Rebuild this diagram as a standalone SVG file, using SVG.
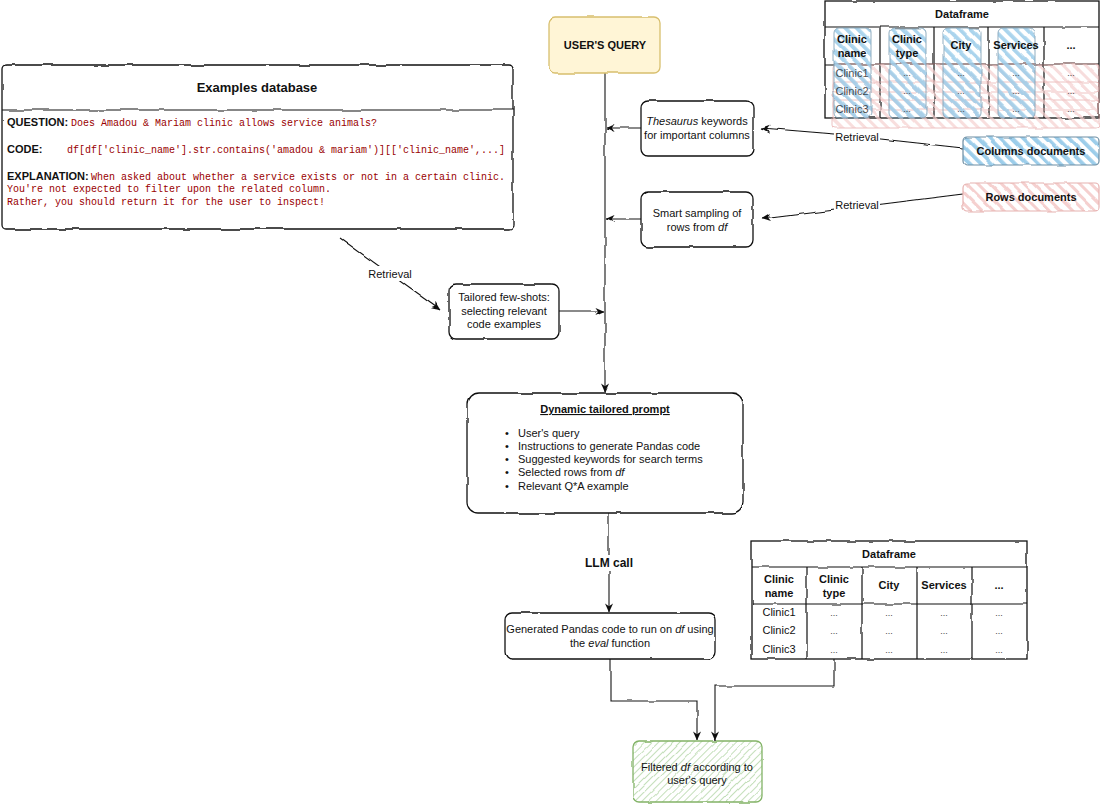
<svg xmlns="http://www.w3.org/2000/svg" width="1100" height="806" viewBox="0 0 1100 806">
<style>
.t{font-family:"Liberation Sans",Arial,sans-serif;font-size:11px;fill:#111}
.b{font-weight:bold}
.i{font-style:italic}
.m{text-anchor:middle}
.c{font-family:"Liberation Mono","Courier New",monospace;font-size:10px;fill:#990000}
.box{fill:#fff;stroke:#111;stroke-width:1.3}
.ln{fill:none;stroke:#111;stroke-width:1.2}
.con{fill:none;stroke:#111;stroke-width:1.1}
.dots{font-size:9px;fill:#444}
</style>
<defs>
<filter id="rough" filterUnits="userSpaceOnUse" x="0" y="0" width="1100" height="806">
<feTurbulence type="fractalNoise" baseFrequency="0.05" numOctaves="2" seed="4"/>
<feDisplacementMap in="SourceGraphic" scale="3" xChannelSelector="R" yChannelSelector="G"/>
</filter>
<pattern id="hBlue" width="8" height="8" patternUnits="userSpaceOnUse" patternTransform="rotate(-45)">
<rect width="3.8" height="8" fill="#9ccdea"/>
</pattern>
<pattern id="hPink" width="8" height="8" patternUnits="userSpaceOnUse" patternTransform="rotate(-45)">
<rect width="3" height="8" fill="#f5d0cf"/>
</pattern>
<pattern id="hGreen" width="5" height="5" patternUnits="userSpaceOnUse" patternTransform="rotate(45)">
<rect width="1" height="5" fill="#c4dfba"/>
</pattern>
<marker id="arr" viewBox="0 0 10 10" refX="9.5" refY="5" markerWidth="9" markerHeight="9" markerUnits="userSpaceOnUse" orient="auto">
<path d="M0,0.5 L10,5 L0,9.5 L3,5 z" fill="#111"/>
</marker>
</defs>
<rect width="1100" height="806" fill="#fff"/>

<g id="connectors">
<g filter="url(#rough)">
<path class="con" d="M605,73 L605,392" marker-end="url(#arr)"/>
<path class="con" d="M642,128 L606,128" marker-end="url(#arr)"/>
<path class="con" d="M642,219 L606,219" marker-end="url(#arr)"/>
<path class="con" d="M559,311 L604,311" marker-end="url(#arr)"/>
<path class="con" d="M340,238 L440,310" marker-end="url(#arr)"/>
<path class="con" d="M963,148 L835,134 L762,128" marker-end="url(#arr)"/>
<path class="con" d="M963,194 L835,210 L762,219" marker-end="url(#arr)"/>
<path class="con" d="M609,513 L609,612" marker-end="url(#arr)"/>
<path class="con" d="M611,659 L611,701 L697,701 L697,740" marker-end="url(#arr)"/>
<path class="con" d="M834,659 L834,686 L715,686 L715,740" marker-end="url(#arr)"/>
</g>
<rect x="365" y="266" width="50" height="15" fill="#fff"/>
<text class="t m" x="390" y="278">Retrieval</text>
<rect x="834" y="130" width="46" height="14" fill="#fff"/>
<text class="t m" x="857" y="141">Retrieval</text>
<rect x="834" y="198" width="46" height="14" fill="#fff"/>
<text class="t m" x="857" y="209">Retrieval</text>
<rect x="583" y="555" width="52" height="16" fill="#fff"/>
<text class="t b m" x="609" y="567" style="font-size:12px">LLM call</text>
</g>

<g id="node-query">
<rect x="549" y="17" width="111" height="56" rx="6" fill="#fff5d6" stroke="#d8bf6e" stroke-width="1.3" filter="url(#rough)"/>
<text class="t b m" x="605" y="49">USER'S QUERY</text>
</g>

<g id="node-examples">
<g filter="url(#rough)">
<rect class="box" x="2" y="65" width="511" height="164" rx="4" stroke-width="1.6"/>
<path class="ln" d="M2,110 L513,110" stroke-width="1.6"/>
</g>
<text class="t b m" x="257" y="92" style="font-size:13px">Examples database</text>
<text class="t" x="7" y="126"><tspan class="b">QUESTION:</tspan><tspan class="c" x="71">Does Amadou &amp; Mariam clinic allows service animals?</tspan></text>
<text class="t" x="7" y="153"><tspan class="b">CODE:</tspan><tspan class="c" x="67">df[df['clinic_name'].str.contains('amadou &amp; mariam')][['clinic_name',...]</tspan></text>
<text class="t" x="7" y="180"><tspan class="b">EXPLANATION:</tspan><tspan class="c" x="91">When asked about whether a service exists or not in a certain clinic.</tspan></text>
<text class="c" x="7" y="192">You're not expected to filter upon the related column.</text>
<text class="c" x="7" y="205">Rather, you should return it for the user to inspect!</text>
</g>

<g id="node-thesaurus">
<rect class="box" x="641" y="101" width="112" height="55" rx="7" filter="url(#rough)"/>
<text class="t m" x="697" y="125"><tspan class="i">Thesaurus</tspan> keywords</text>
<text class="t m" x="697" y="139">for important columns</text>
</g>

<g id="node-sampling">
<rect class="box" x="641" y="192" width="112" height="55" rx="7" filter="url(#rough)"/>
<text class="t m" x="697" y="217">Smart sampling of</text>
<text class="t m" x="697" y="231">rows from <tspan class="i">df</tspan></text>
</g>

<g id="node-fewshots">
<rect class="box" x="449" y="284" width="110" height="55" rx="7" filter="url(#rough)"/>
<text class="t m" x="504" y="301">Tailored few-shots:</text>
<text class="t m" x="504" y="315">selecting relevant</text>
<text class="t m" x="504" y="328">code examples</text>
</g>

<g id="node-dataframe-top">
<g filter="url(#rough)">
<rect class="box" x="825" y="1" width="274" height="117"/>
<path class="ln" d="M825,27 L1099,27 M825,64 L1099,64 M880,27 L880,118 M934,27 L934,118 M989,27 L989,118 M1044,27 L1044,118"/>
<g opacity="0.7">
<rect x="833" y="64" width="266" height="28" rx="3" fill="url(#hPink)" stroke="#e7a9a8" stroke-width="1"/>
<rect x="833" y="82" width="266" height="28" rx="3" fill="url(#hPink)" stroke="#e7a9a8" stroke-width="1"/>
<rect x="833" y="100" width="266" height="28" rx="3" fill="url(#hPink)" stroke="#e7a9a8" stroke-width="1"/>
</g>
<g opacity="0.85">
<rect x="834" y="28" width="37" height="90" rx="5" fill="url(#hBlue)" stroke="#7d9fb5" stroke-width="1"/>
<rect x="889" y="28" width="37" height="90" rx="5" fill="url(#hBlue)" stroke="#7d9fb5" stroke-width="1"/>
<rect x="943" y="28" width="38" height="90" rx="5" fill="url(#hBlue)" stroke="#7d9fb5" stroke-width="1"/>
<rect x="998" y="28" width="37" height="90" rx="5" fill="url(#hBlue)" stroke="#7d9fb5" stroke-width="1"/>
</g>
</g>
<text class="t b m" x="962" y="18">Dataframe</text>
<text class="t b m" x="852" y="43">Clinic</text>
<text class="t b m" x="852" y="57">name</text>
<text class="t b m" x="907" y="43">Clinic</text>
<text class="t b m" x="907" y="57">type</text>
<text class="t b m" x="961" y="49">City</text>
<text class="t b m" x="1016" y="49">Services</text>
<text class="t b m" x="1071" y="49">...</text>
<text class="t m" x="852" y="77" fill-opacity="0.75">Clinic1</text>
<text class="t m" x="852" y="95" fill-opacity="0.75">Clinic2</text>
<text class="t m" x="852" y="113" fill-opacity="0.75">Clinic3</text>
<g class="t dots m">
<text x="907" y="76">...</text><text x="961" y="76">...</text><text x="1016" y="76">...</text><text x="1071" y="76">...</text>
<text x="907" y="94">...</text><text x="961" y="94">...</text><text x="1016" y="94">...</text><text x="1071" y="94">...</text>
<text x="907" y="112">...</text><text x="961" y="112">...</text><text x="1016" y="112">...</text><text x="1071" y="112">...</text>
</g>
</g>

<g id="node-columns-docs">
<rect x="963" y="137" width="136" height="28" rx="4" fill="url(#hBlue)" stroke="#6d8ea3" stroke-width="1.2" filter="url(#rough)"/>
<text class="t b m" x="1031" y="155">Columns documents</text>
</g>

<g id="node-rows-docs">
<rect x="963" y="183" width="136" height="28" rx="4" fill="url(#hPink)" stroke="#e6b1b0" stroke-width="1.2" filter="url(#rough)"/>
<text class="t b m" x="1031" y="201">Rows documents</text>
</g>

<g id="node-prompt">
<rect class="box" x="467" y="393" width="276" height="120" rx="11" filter="url(#rough)"/>
<text class="t b m" x="605" y="413" text-decoration="underline">Dynamic tailored prompt</text>
<g class="t">
<text x="505" y="437">•</text><text x="518" y="437">User's query</text>
<text x="505" y="450">•</text><text x="518" y="450">Instructions to generate Pandas code</text>
<text x="505" y="463">•</text><text x="518" y="463">Suggested keywords for search terms</text>
<text x="505" y="476">•</text><text x="518" y="476">Selected rows from <tspan class="i">df</tspan></text>
<text x="505" y="490">•</text><text x="518" y="490">Relevant Q*A example</text>
</g>
</g>

<g id="node-generated">
<rect class="box" x="505" y="613" width="210" height="46" rx="7" filter="url(#rough)"/>
<text class="t m" x="610" y="633">Generated Pandas code to run on <tspan class="i">df</tspan> using</text>
<text class="t m" x="610" y="647">the <tspan class="i">eval</tspan> function</text>
</g>

<g id="node-dataframe-bottom">
<g filter="url(#rough)">
<rect class="box" x="752" y="541" width="275" height="118"/>
<path class="ln" d="M752,567 L1027,567 M752,604 L1027,604 M807,567 L807,659 M862,567 L862,659 M917,567 L917,659 M972,567 L972,659"/>
</g>
<text class="t b m" x="889" y="558">Dataframe</text>
<text class="t b m" x="779" y="583">Clinic</text>
<text class="t b m" x="779" y="597">name</text>
<text class="t b m" x="834" y="583">Clinic</text>
<text class="t b m" x="834" y="597">type</text>
<text class="t b m" x="889" y="589">City</text>
<text class="t b m" x="944" y="589">Services</text>
<text class="t b m" x="999" y="589">...</text>
<text class="t m" x="779" y="616">Clinic1</text>
<text class="t m" x="779" y="634">Clinic2</text>
<text class="t m" x="779" y="653">Clinic3</text>
<g class="t dots m">
<text x="834" y="616">...</text><text x="889" y="616">...</text><text x="944" y="616">...</text><text x="999" y="616">...</text>
<text x="834" y="634">...</text><text x="889" y="634">...</text><text x="944" y="634">...</text><text x="999" y="634">...</text>
<text x="834" y="653">...</text><text x="889" y="653">...</text><text x="944" y="653">...</text><text x="999" y="653">...</text>
</g>
</g>

<g id="node-filtered">
<rect x="633" y="741" width="129" height="61" rx="6" fill="url(#hGreen)" stroke="#82b366" stroke-width="1.3" filter="url(#rough)"/>
<text class="t m" x="697" y="771">Filtered <tspan class="i">df</tspan> according to</text>
<text class="t m" x="697" y="784">user's query</text>
</g>
</svg>
